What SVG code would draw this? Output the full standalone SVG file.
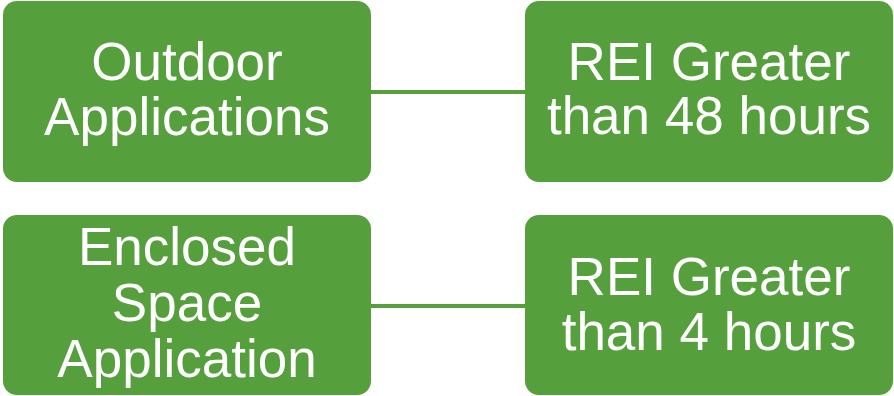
<svg xmlns="http://www.w3.org/2000/svg" width="894" height="396" viewBox="0 0 894 396">
  <style>
    .box { fill: #559F3C; }
    .lbl { fill: #FFFFFF; font-family: "Liberation Sans", Arial, sans-serif; font-size: 53px; text-anchor: middle; }
    .conn { stroke: #559F3C; stroke-width: 4; fill: none; }
  </style>
  <rect width="894" height="396" fill="#FFFFFF"/>
  <g id="connectors">
    <line class="conn" x1="371" y1="92" x2="526" y2="92"/>
    <line class="conn" x1="371" y1="306" x2="526" y2="306"/>
  </g>
  <g id="node-outdoor">
    <rect class="box" x="3" y="1" width="368" height="181" rx="14" ry="14"/>
    <text class="lbl" x="187" y="80">Outdoor</text>
    <text class="lbl" x="187" y="135">Applications</text>
  </g>
  <g id="node-rei48">
    <rect class="box" x="525" y="1" width="368" height="181" rx="14" ry="14"/>
    <text class="lbl" x="709" y="80">REI Greater</text>
    <text class="lbl" x="709" y="134">than 48 hours</text>
  </g>
  <g id="node-enclosed">
    <rect class="box" x="3" y="215" width="368" height="180" rx="14" ry="14"/>
    <text class="lbl" x="187" y="265">Enclosed</text>
    <text class="lbl" x="187" y="321">Space</text>
    <text class="lbl" x="187" y="377">Application</text>
  </g>
  <g id="node-rei4">
    <rect class="box" x="525" y="215" width="368" height="180" rx="14" ry="14"/>
    <text class="lbl" x="709" y="295">REI Greater</text>
    <text class="lbl" x="709" y="350">than 4 hours</text>
  </g>
</svg>
